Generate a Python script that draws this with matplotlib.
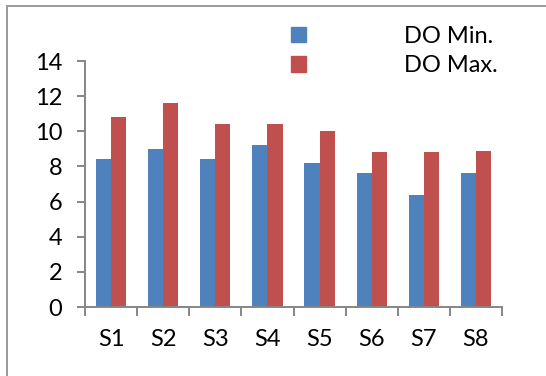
import matplotlib
matplotlib.use("Agg")
import matplotlib.pyplot as plt
from matplotlib.patches import Rectangle, Patch
import numpy as np

sites = ["S1", "S2", "S3", "S4", "S5", "S6", "S7", "S8"]
do_min = [8.4, 9.0, 8.4, 9.2, 8.2, 7.6, 6.4, 7.6]
do_max = [10.8, 11.6, 10.4, 10.4, 10.0, 8.8, 8.8, 8.9]
series_labels = ["DO Min.", "DO Max."]
y_ticks = [0, 2, 4, 6, 8, 10, 12, 14]

blue = "#4F81BD"
red = "#C0504D"
axis_gray = "#868686"

plt.rcParams["font.family"] = ["Lato", "DejaVu Sans"]

W, H = 546, 376
fig = plt.figure(figsize=(W / 100, H / 100), dpi=100)

# outer chart frame (runs past the right and bottom edges)
fig.patches.append(Rectangle((7 / W, -0.1), 1.2, (H - 6) / H + 0.1,
                             transform=fig.transFigure, fill=False,
                             edgecolor="#9a9a9a", linewidth=1.4))

ax = fig.add_axes([85 / W, (H - 307) / H, (502 - 85) / W, (307 - 61) / H])

x = np.arange(len(sites))
bw = 0.29
ax.bar(x - bw / 2, do_min, width=bw, color=blue, label=series_labels[0])
ax.bar(x + bw / 2, do_max, width=bw, color=red, label=series_labels[1])

ax.set_xlim(-0.5, len(sites) - 0.5)
ax.set_ylim(0, 14)
ax.set_yticks(y_ticks)
ax.set_yticklabels([str(v) for v in y_ticks])

# category ticks sit between groups; labels centred under each group
ax.set_xticks(np.arange(len(sites) + 1) - 0.5)
ax.set_xticklabels([])
ax.set_xticks(x, minor=True)
ax.set_xticklabels(sites, minor=True)
ax.tick_params(axis="x", which="major", direction="out", length=6.5,
               width=1.4, color=axis_gray)
ax.tick_params(axis="x", which="minor", length=0, pad=16, labelsize=17)
ax.tick_params(axis="y", direction="out", length=5.8, width=1.4,
               color=axis_gray, pad=10.5, labelsize=17)

for side in ("top", "right"):
    ax.spines[side].set_visible(False)
for side in ("left", "bottom"):
    ax.spines[side].set_color(axis_gray)
    ax.spines[side].set_linewidth(1.4)

handles = [Patch(color=blue), Patch(color=red)]
fig.legend(handles, series_labels, loc="upper left",
           bbox_to_anchor=(272 / W, 1 - 7 / H), frameon=False,
           fontsize=17, handlelength=0.64, handleheight=0.64,
           handletextpad=4.15, labelspacing=0.36, borderpad=0.3)

fig.savefig("out.png", dpi=100)
